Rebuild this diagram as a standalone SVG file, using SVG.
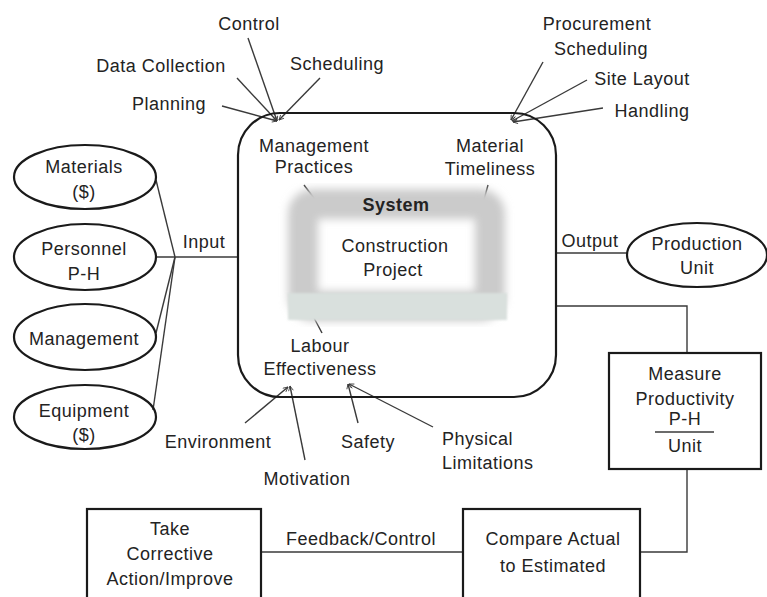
<svg xmlns="http://www.w3.org/2000/svg" width="767" height="597" viewBox="0 0 767 597">
  <style>
    text { font-family: "Liberation Sans", Arial, sans-serif; font-size: 18px; fill: #232323; letter-spacing: 0.5px; }
    .c { text-anchor: middle; }
    .b { font-weight: bold; }
    .box { fill: none; stroke: #1a1a1a; stroke-width: 2.2; }
    .link { fill: none; stroke: #3a3a3a; stroke-width: 1.4; }
    .arr { fill: none; stroke: #3a3a3a; stroke-width: 1.4; marker-end: url(#tip); }
  </style>
  <defs>
    <marker id="tip" viewBox="0 0 10 10" refX="9" refY="5" markerWidth="6" markerHeight="6" orient="auto" markerUnits="userSpaceOnUse">
      <path d="M1,1 L9,5 L1,9" fill="none" stroke="#3a3a3a" stroke-width="1.4"/>
    </marker>
    <filter id="haze" x="-20%" y="-20%" width="140%" height="140%">
      <feGaussianBlur stdDeviation="4"/>
    </filter>
    <filter id="soft" x="-10%" y="-30%" width="120%" height="160%">
      <feGaussianBlur stdDeviation="1.2"/>
    </filter>
  </defs>
  <rect width="767" height="597" fill="#ffffff"/>

  <!-- connectors -->
  <g id="connectors">
    <!-- inputs -->
    <line class="link" x1="156" y1="180" x2="175" y2="257"/>
    <line class="link" x1="157" y1="257" x2="238" y2="257"/>
    <line class="link" x1="156" y1="333" x2="175" y2="257"/>
    <line class="link" x1="153" y1="410" x2="175" y2="257"/>
    <!-- output -->
    <line class="link" x1="556" y1="253" x2="627" y2="253"/>
    <!-- measurement loop -->
    <polyline class="link" points="556,306 687,306 687,353"/>
    <polyline class="link" points="687,469 687,552 640,552"/>
    <line class="link" x1="261" y1="552" x2="463" y2="552"/>
    <!-- management practices factors -->
    <line class="arr" x1="248" y1="38" x2="277" y2="121"/>
    <line class="arr" x1="237" y1="78" x2="277" y2="121"/>
    <line class="arr" x1="222" y1="106" x2="277" y2="121"/>
    <line class="arr" x1="320" y1="78" x2="279" y2="120"/>
    <!-- material timeliness factors -->
    <line class="arr" x1="543" y1="62" x2="511" y2="120"/>
    <line class="arr" x1="587" y1="80" x2="512" y2="121"/>
    <line class="arr" x1="603" y1="108" x2="513" y2="122"/>
    <!-- labour effectiveness factors -->
    <line class="arr" x1="245" y1="423" x2="288" y2="387"/>
    <line class="arr" x1="305" y1="460" x2="290" y2="386"/>
    <line class="arr" x1="358" y1="423" x2="348" y2="384"/>
    <line class="arr" x1="433" y1="427" x2="349" y2="384"/>
    <!-- ticks inside the system -->
    <line class="link" x1="304" y1="185" x2="317" y2="202"/>
    <line class="link" x1="488" y1="185" x2="483" y2="203"/>
    <line class="link" x1="313" y1="316" x2="322" y2="333"/>
  </g>

  <!-- system boundary -->
  <g id="system">
    <rect class="box" x="238" y="113" width="318" height="284" rx="42" ry="42"/>
    <rect x="303" y="204" width="187" height="102" rx="10" fill="none" stroke="#cbcbcb" stroke-width="30" filter="url(#haze)"/>
    <rect x="288" y="293" width="219" height="27" fill="#d9e0dd" filter="url(#soft)"/>
    <text class="c b" x="396" y="211">System</text>
    <text class="c" x="395" y="252">Construction</text>
    <text class="c" x="393" y="276">Project</text>
    <text class="c" x="314" y="152">Management</text>
    <text class="c" x="314" y="173">Practices</text>
    <text class="c" x="490" y="152">Material</text>
    <text class="c" x="490" y="175">Timeliness</text>
    <text class="c" x="320" y="352">Labour</text>
    <text class="c" x="320" y="375">Effectiveness</text>
  </g>

  <!-- input resources -->
  <g id="materials">
    <ellipse class="box" cx="85" cy="177" rx="71" ry="32"/>
    <text class="c" x="84" y="173">Materials</text>
    <text class="c" x="84" y="198">($)</text>
  </g>
  <g id="personnel">
    <ellipse class="box" cx="85" cy="257" rx="71" ry="33"/>
    <text class="c" x="84" y="255">Personnel</text>
    <text class="c" x="84" y="280">P-H</text>
  </g>
  <g id="management">
    <ellipse class="box" cx="85" cy="337" rx="71" ry="33"/>
    <text class="c" x="84" y="345">Management</text>
  </g>
  <g id="equipment">
    <ellipse class="box" cx="85" cy="417" rx="71" ry="32"/>
    <text class="c" x="84" y="417">Equipment</text>
    <text class="c" x="84" y="441">($)</text>
  </g>
  <g id="input-label">
    <text class="c" x="204" y="248">Input</text>
  </g>

  <!-- output -->
  <g id="output-label">
    <text class="c" x="590" y="247">Output</text>
  </g>
  <g id="production-unit">
    <ellipse class="box" cx="697" cy="255" rx="70" ry="32"/>
    <text class="c" x="697" y="250">Production</text>
    <text class="c" x="697" y="274">Unit</text>
  </g>

  <!-- factor labels -->
  <g id="factor-control"><text class="c" x="249" y="30">Control</text></g>
  <g id="factor-data-collection"><text class="c" x="161" y="72">Data Collection</text></g>
  <g id="factor-scheduling"><text class="c" x="337" y="70">Scheduling</text></g>
  <g id="factor-planning"><text class="c" x="169" y="110">Planning</text></g>
  <g id="factor-procurement">
    <text class="c" x="597" y="30">Procurement</text>
    <text class="c" x="601" y="55">Scheduling</text>
  </g>
  <g id="factor-site-layout"><text class="c" x="642" y="85">Site Layout</text></g>
  <g id="factor-handling"><text class="c" x="652" y="117">Handling</text></g>
  <g id="factor-environment"><text class="c" x="218" y="448">Environment</text></g>
  <g id="factor-motivation"><text class="c" x="307" y="485">Motivation</text></g>
  <g id="factor-safety"><text class="c" x="368" y="448">Safety</text></g>
  <g id="factor-physical">
    <text x="442" y="445">Physical</text>
    <text x="442" y="469">Limitations</text>
  </g>

  <!-- control loop -->
  <g id="measure-productivity">
    <rect class="box" x="609" y="353" width="152" height="116"/>
    <text class="c" x="685" y="380">Measure</text>
    <text class="c" x="685" y="405">Productivity</text>
    <text class="c" x="685" y="425">P-H</text>
    <line x1="655" y1="432" x2="714" y2="432" stroke="#3a3a3a" stroke-width="1.3"/>
    <text class="c" x="685" y="452">Unit</text>
  </g>
  <g id="compare-actual">
    <rect class="box" x="463" y="509" width="177" height="100"/>
    <text class="c" x="553" y="545">Compare Actual</text>
    <text class="c" x="553" y="572">to Estimated</text>
  </g>
  <g id="feedback-label">
    <text class="c" x="361" y="545">Feedback/Control</text>
  </g>
  <g id="corrective-action">
    <rect class="box" x="87" y="509" width="174" height="100"/>
    <text class="c" x="170" y="535">Take</text>
    <text class="c" x="170" y="560">Corrective</text>
    <text class="c" x="170" y="585">Action/Improve</text>
  </g>
</svg>
